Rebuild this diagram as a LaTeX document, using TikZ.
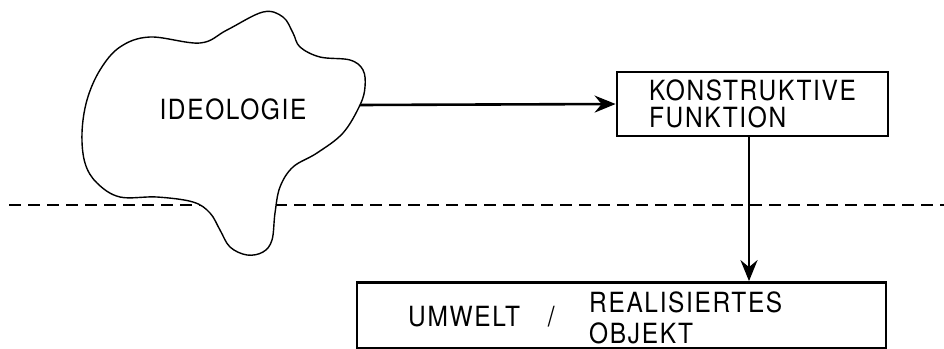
\documentclass[tikz,border=0pt]{standalone}
\usepackage{fontspec}
\setmainfont[FakeStretch=0.88,LetterSpace=6]{TeX Gyre Heros}
\usetikzlibrary{arrows.meta}

\begin{document}
\begin{tikzpicture}[x=1pt,y=-1pt]
\tikzset{box label/.style={ %
		draw,
		line width=2.8pt,
		inner sep=0pt,
		font=\fontsize{27.8}{27.5}\selectfont %
	},
	plain label/.style={
		inner sep=0pt,
		align=left,
		font=\fontsize{27.8}{30.5}\selectfont
	},
	flow arrow/.style={
		line width=2.6pt,
		-{Stealth[length=21pt,width=17pt,inset=7pt]}
	}
}
\useasboundingbox (0,0) rectangle (944,348);
\draw[line width=1.3pt,dash pattern=on 12pt off 7pt] (9,205) -- (944,205);
\draw[line width=1.4pt,fill=white] plot[smooth cycle,tension=0.6] coordinates {
	(82,133) (87,100) (100,70) (120,47) (150,37) (200,43) (227,30) (263,12)
	(283,17) (293,33) (300,47) (320,57) (350,60) (363,70) (365,87) (360,105)
	(343,133) (317,153) (293,167) (280,187) (275,213) (272,240) (263,252)
	(247,255) (230,247) (220,230) (210,213) (193,202) (157,197) (120,197)
	(97,183) (85,163)};
\coordinate (blob) at (360,105);
\node[plain label] (ideo) at (233,109) {IDEOLOGIE};
\node[box label,minimum width=271pt,minimum height=64pt,align=left] (funktion) at (752.5,104)
	{KONSTRUKTIVE\\FUNKTION};
\node[box label,minimum width=529pt,minimum height=66pt] (umwelt) at (621.5,315.5) {};
\node[plain label,anchor=north west] (umw) at (408,306) {UMWELT\quad/};
\node[plain label,anchor=north west] (objekt) at (589,292) {REALISIERTES\\OBJEKT};
\draw[flow arrow] (blob) -- (funktion.west);
\draw[flow arrow] (funktion.south -| 749,0) -- (umwelt.north -| 749,0);
\end{tikzpicture}
\end{document}
